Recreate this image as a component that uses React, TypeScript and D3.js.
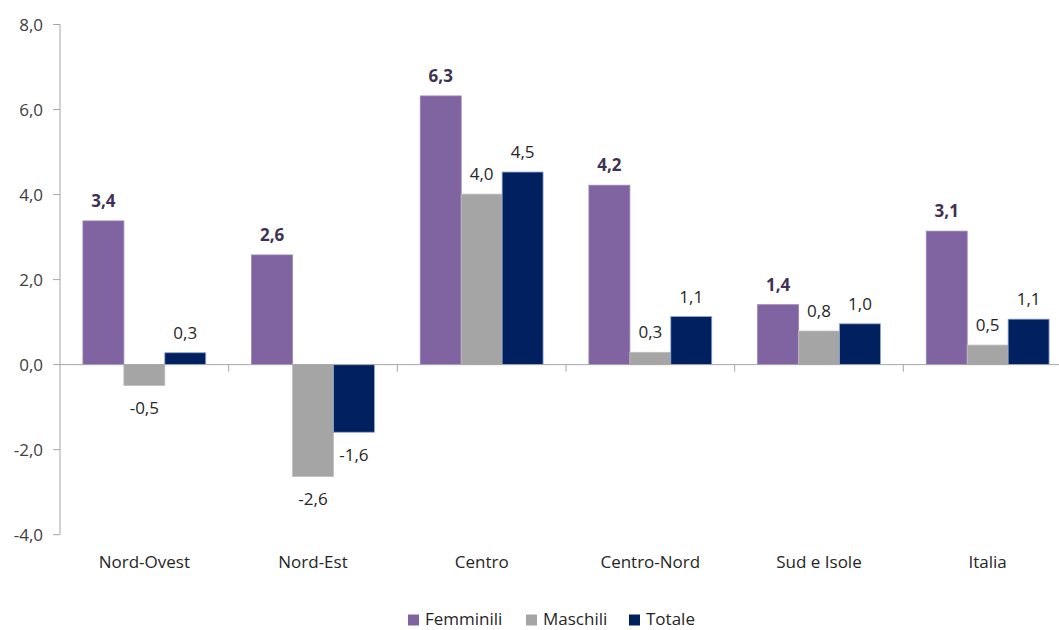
import React from "react";
import * as d3 from "d3";

const categories = ["Nord-Ovest", "Nord-Est", "Centro", "Centro-Nord", "Sud e Isole", "Italia"];
const seriesNames = ["Femminili", "Maschili", "Totale"];
const femminili = [3.38, 2.58, 6.32, 4.22, 1.41, 3.14];
const maschili = [-0.49, -2.63, 4.01, 0.29, 0.79, 0.46];
const totale = [0.28, -1.59, 4.53, 1.13, 0.96, 1.07];
const yTicks = [-4, -2, 0, 2, 4, 6, 8];

const W = 1059;
const H = 630;
const FONT = "'Open Sans', Lato, sans-serif";
const FS = 17;

const fills = ["#8064A2", "#A5A5A5", "#002060"];
const strokes = ["#9a83b8", "#bdbdbd", "#8ea6cc"];

export default function App() {
  const seriesValues = [femminili, maschili, totale];
  const y = d3.scaleLinear().domain([-4, 8]).range([534.7, 24.5]);
  const x0 = d3.scaleBand<string>().domain(categories).range([60, 1072]).paddingInner(0).paddingOuter(0);
  const x1 = d3
    .scaleBand<string>()
    .domain(seriesNames)
    .range([0, x0.bandwidth()])
    .paddingInner(0)
    .paddingOuter(0.56);
  const fmt = (v: number) => v.toFixed(1).replace(".", ",");
  const y0 = y(0);

  return (
    <svg width={W} height={H} style={{ position: "absolute", left: 0, top: 0, background: "#fff" }}>
      {/* y axis */}
      <line x1={60} x2={60} y1={y(8)} y2={y(-4)} stroke="#a6a6a6" strokeWidth={1} />
      {yTicks.map((t) => (
        <g key={t}>
          <line x1={53} x2={60} y1={y(t)} y2={y(t)} stroke="#a6a6a6" />
          <text
            x={43}
            y={y(t)}
            dy="0.36em"
            textAnchor="end"
            fontFamily={FONT}
            fontSize={FS}
            fill="#404040"
          >
            {fmt(t)}
          </text>
        </g>
      ))}
      {/* bars */}
      {categories.map((c, ci) => (
        <g key={c} transform={`translate(${x0(c)},0)`}>
          {seriesNames.map((s, si) => {
            const v = seriesValues[si][ci];
            const top = v >= 0 ? y(v) : y0;
            const h = Math.abs(y(v) - y0);
            return (
              <rect
                key={s}
                x={x1(s)}
                y={top}
                width={x1.bandwidth()}
                height={h}
                fill={fills[si]}
                stroke={strokes[si]}
                strokeWidth={0.8}
              />
            );
          })}
        </g>
      ))}
      {/* x axis */}
      <line x1={60} x2={W} y1={y0} y2={y0} stroke="#a6a6a6" strokeWidth={1} />
      {categories.map((c, ci) =>
        ci === 0 ? null : (
          <line key={c} x1={x0(c)} x2={x0(c)} y1={y0} y2={y0 + 7} stroke="#a6a6a6" />
        )
      )}
      {/* labels */}
      {categories.map((c, ci) => (
        <g key={c}>
          {seriesNames.map((s, si) => {
            const v = seriesValues[si][ci];
            const cx = (x0(c) as number) + (x1(s) as number) + x1.bandwidth() / 2;
            const ly = v >= 0 ? y(v) - 14 : y(v) + 29;
            return (
              <text
                key={s}
                x={cx}
                y={ly}
                textAnchor="middle"
                fontFamily={FONT}
                fontSize={FS}
                fontWeight={si === 0 ? 700 : 400}
                fill={si === 0 ? "#403152" : "#262626"}
              >
                {fmt(v)}
              </text>
            );
          })}
          <text
            x={(x0(c) as number) + x0.bandwidth() / 2}
            y={568}
            textAnchor="middle"
            fontFamily={FONT}
            fontSize={FS}
            fill="#262626"
          >
            {c}
          </text>
        </g>
      ))}
      {/* legend */}
      {seriesNames.map((s, si) => {
        const lx = [408, 526, 629][si];
        return (
          <g key={s}>
            <rect x={lx} y={614.5} width={11} height={11} fill={fills[si]} />
            <text x={lx + 17} y={625} fontFamily={FONT} fontSize={FS} fill="#262626">
              {s}
            </text>
          </g>
        );
      })}
    </svg>
  );
}
